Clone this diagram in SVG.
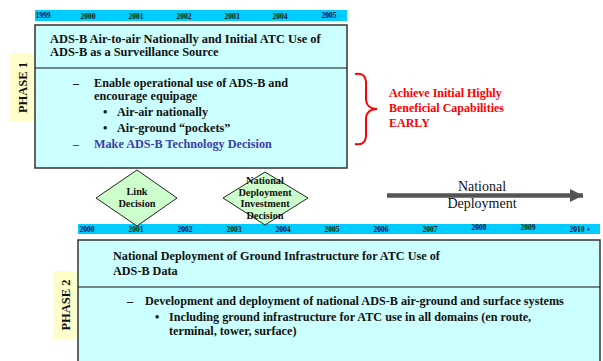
<svg xmlns="http://www.w3.org/2000/svg" width="603" height="361" viewBox="0 0 603 361">
<style>
text{font-family:"Liberation Serif","Times New Roman",serif;font-weight:bold;fill:#111}
.yr{font-size:7.5px;text-anchor:middle}
.bar{fill:#00CCFF}
.box{fill:#CCFFFF;stroke:#333;stroke-width:1.5}
.div{stroke:#111;stroke-width:1}
.lbl{fill:#FFFFCC}
.ph{font-size:12.5px;text-anchor:middle}
.t{font-size:12.4px}
.b{font-size:12.2px}
.red{fill:#FF0000;font-size:12px}
.dia{fill:#CCFFCC;stroke:#222;stroke-width:1}
.dt{font-size:10.3px;text-anchor:middle}
.nd{font-family:"Liberation Serif","Times New Roman",serif;font-weight:normal;font-size:14px;text-anchor:middle}
</style>
<defs>
<marker id="ah" viewBox="0 0 10 10" refX="10" refY="5" markerWidth="3" markerHeight="3" markerUnits="strokeWidth" orient="auto">
<path d="M0,0 L10,5 L0,10 z" fill="#555"/>
</marker>
</defs>
<rect width="603" height="361" fill="#fff"/>

<g id="timeline1">
<rect class="bar" x="35" y="10" width="312" height="11"/>
<text class="yr" x="43" y="18">1999</text>
<text class="yr" x="88" y="19">2000</text>
<text class="yr" x="136" y="19">2001</text>
<text class="yr" x="184" y="19">2002</text>
<text class="yr" x="232" y="19">2003</text>
<text class="yr" x="280" y="19">2004</text>
<text class="yr" x="329" y="18">2005</text>
</g>

<g id="phase1">
<rect class="box" x="35" y="25" width="312" height="143"/>
<line class="div" x1="35" y1="68" x2="347" y2="68"/>
<text class="t" x="50" y="43">ADS-B Air-to-air Nationally and Initial ATC Use of</text>
<text class="t" x="50" y="56">ADS-B as a Surveillance Source</text>
<text class="b" x="73" y="87">–</text>
<text class="b" x="94" y="87">Enable operational use of ADS-B and</text>
<text class="b" x="94" y="100">encourage equipage</text>
<text class="b" x="103" y="116">•</text>
<text class="b" x="117" y="116">Air-air nationally</text>
<text class="b" x="103" y="132">•</text>
<text class="b" x="117" y="132">Air-ground “pockets”</text>
<text class="b" x="73" y="148" style="fill:#3C3CA8">–</text>
<text class="b" x="94" y="148" style="fill:#3C3CA8">Make ADS-B Technology Decision</text>
</g>

<g id="phase1-label">
<rect class="lbl" x="10" y="53" width="24" height="69"/>
<text class="ph" transform="translate(26.5,87.5) rotate(-90)">PHASE 1</text>
</g>

<g id="goal">
<path d="M355,74 Q365,72 366,82 L366,100 Q367,109 377,109 Q367,109 366,118 L366,136 Q365,146 355,144" fill="none" stroke="#FF0000" stroke-width="2"/>
<text class="red" x="389" y="97">Achieve Initial Highly</text>
<text class="red" x="389" y="112">Beneficial Capabilities</text>
<text class="red" x="389" y="127">EARLY</text>
</g>

<g id="timeline2">
<rect class="bar" x="78" y="224" width="522" height="10"/>
<text class="yr" x="87" y="232">2000</text>
<text class="yr" x="136" y="232">2001</text>
<text class="yr" x="185" y="232">2002</text>
<text class="yr" x="234" y="232">2003</text>
<text class="yr" x="283" y="232">2004</text>
<text class="yr" x="332" y="232">2005</text>
<text class="yr" x="381" y="232">2006</text>
<text class="yr" x="430" y="232">2007</text>
<text class="yr" x="479" y="230">2008</text>
<text class="yr" x="528" y="230">2009</text>
<text class="yr" x="580" y="232">2010 +</text>
</g>

<g id="link-decision">
<polygon class="dia" points="137,170 177,198 137,226 96,198"/>
<text class="dt" x="137" y="195">Link</text>
<text class="dt" x="137" y="207">Decision</text>
</g>

<g id="investment-decision">
<polygon class="dia" points="265,172 308,198 265,225 223,198"/>
<text class="dt" x="265" y="184">National</text>
<text class="dt" x="265" y="195.5">Deployment</text>
<text class="dt" x="265" y="207">Investment</text>
<text class="dt" x="265" y="219">Decision</text>
</g>

<g id="connectors">
<line x1="387" y1="195.5" x2="583" y2="195.5" stroke="#555" stroke-width="4.5" marker-end="url(#ah)"/>
</g>

<g id="national-deployment">
<text class="nd" x="482" y="191">National</text>
<text class="nd" x="482" y="208">Deployment</text>
</g>

<g id="phase2">
<rect class="box" x="78" y="240" width="522" height="130"/>
<line class="div" x1="78" y1="287" x2="600" y2="287"/>
<text class="b" x="113" y="260">National Deployment of Ground Infrastructure for ATC Use of</text>
<text class="b" x="113" y="275">ADS-B Data</text>
<text class="b" x="127" y="305">–</text>
<text class="b" x="145" y="305">Development and deployment of national ADS-B air-ground and surface systems</text>
<text class="b" x="155" y="321">•</text>
<text class="b" x="169" y="321">Including ground infrastructure for ATC use in all domains (en route,</text>
<text class="b" x="169" y="335">terminal, tower, surface)</text>
</g>

<g id="phase2-label">
<rect class="lbl" x="53" y="271" width="24" height="68"/>
<text class="ph" transform="translate(69.5,305) rotate(-90)">PHASE 2</text>
</g>
</svg>
